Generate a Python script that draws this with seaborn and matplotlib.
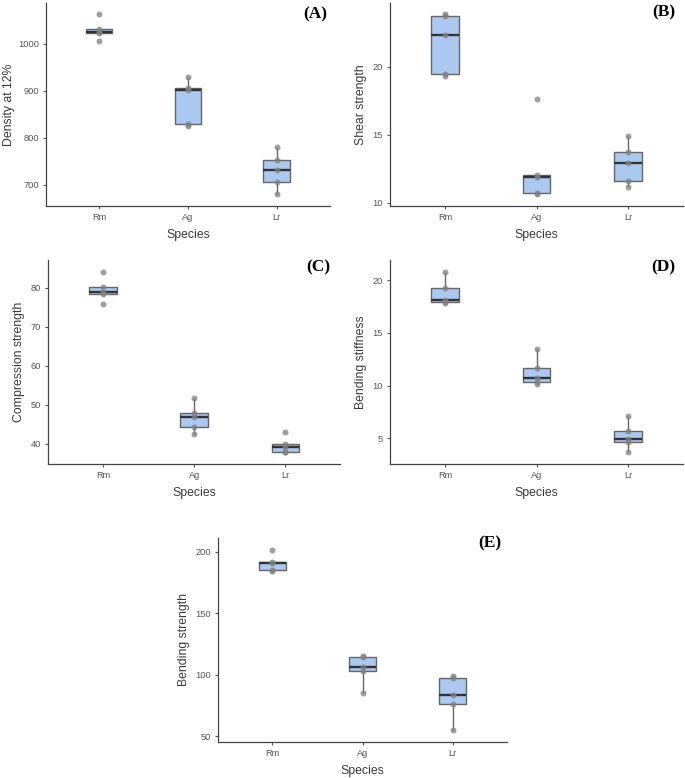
import numpy as np
import pandas as pd
import matplotlib
matplotlib.use("Agg")
import matplotlib.pyplot as plt
import seaborn as sns

species = ["Rm", "Ag", "Lr"]

density = {"Rm": [1006, 1023, 1025.5, 1032, 1064],
           "Ag": [826, 830, 902, 905, 930],
           "Lr": [681.5, 706, 732, 752.5, 781.5]}
shear = {"Rm": [19.32, 19.49, 22.37, 23.77, 23.92],
         "Ag": [10.64, 10.71, 11.91, 12.01, 17.67],
         "Lr": [11.13, 11.62, 12.92, 13.77, 14.93]}
compression = {"Rm": [75.7, 78.5, 79.0, 80.1, 84.1],
               "Ag": [42.6, 44.4, 46.9, 48.0, 51.6],
               "Lr": [37.8, 37.9, 39.2, 39.9, 43.1]}
stiffness = {"Rm": [17.85, 17.97, 18.1, 19.24, 20.82],
             "Ag": [10.2, 10.35, 10.7, 11.71, 13.51],
             "Lr": [3.7, 4.68, 4.94, 5.7, 7.15]}
bending = {"Rm": [184.3, 185.0, 190.8, 191.5, 201.8],
           "Ag": [85.6, 102.8, 106.7, 114.6, 115.5],
           "Lr": [55.4, 76.5, 83.5, 97.6, 99.2]}

ylabels = ["Density at 12%", "Shear strength", "Compression strength",
           "Bending stiffness", "Bending strength"]
tags = ["(A)", "(B)", "(C)", "(D)", "(E)"]
ylims = [(656, 1086), (9.76, 24.73), (34.8, 87.1), (2.56, 21.93), (45.4, 211.4)]
yticks = [[700, 800, 900, 1000], [10, 15, 20], [40, 50, 60, 70, 80],
          [5, 10, 15, 20], [50, 100, 150, 200]]

sns.set_theme(style="ticks")
plt.rcParams['font.family'] = ['Liberation Sans', 'DejaVu Sans']

W, H = 685, 778
fig = plt.figure(figsize=(W / 100, H / 100), dpi=100)

# axes boxes in pixels: left, top, right, bottom
boxes = [(45.7, 3.3, 330, 205.7),
         (390, 2.7, 683, 206),
         (48.3, 260, 340, 464),
         (390, 260, 683, 464),
         (218.3, 537.7, 506.7, 742)]
tagpos = [(0.99, 0.945), (0.973, 0.95), (0.966, 0.962), (0.973, 0.962), (0.983, 0.97)]
ylabelpads = [2.0, 4, 4, 4, 4]

datasets = [density, shear, compression, stiffness, bending]
fill = "#AAC8F0"
edge = "#666666"

for i, d in enumerate(datasets):
    l, t, r, b = boxes[i]
    ax = fig.add_axes([l / W, 1 - b / H, (r - l) / W, (b - t) / H])
    rows = [(sp, v) for sp in species for v in d[sp]]
    df = pd.DataFrame(rows, columns=["Species", "value"])
    sns.boxplot(data=df, x="Species", y="value", order=species, ax=ax,
                width=0.3, color=fill, linecolor=edge, linewidth=1.0,
                showfliers=False, showcaps=False,
                medianprops=dict(color="#333333", linewidth=1.7))
    for p in ax.patches:
        p.set_facecolor(fill)
    sns.stripplot(data=df, x="Species", y="value", order=species, ax=ax,
                  jitter=False, color="#808080", alpha=0.75, size=4.3,
                  linewidth=0)
    ax.set_xlim(-0.6, 2.6)
    ax.set_ylim(*ylims[i])
    ax.set_yticks(yticks[i])
    ax.set_xlabel("Species", fontsize=8.8, color="#3A3A3A", labelpad=5)
    ax.set_ylabel(ylabels[i], fontsize=8.8, color="#3A3A3A", labelpad=ylabelpads[i])
    ax.tick_params(axis="both", labelsize=6.7, colors="#555555",
                   length=2.5, width=0.8, labelcolor="#555555", pad=2.5)
    for s in ["top", "right"]:
        ax.spines[s].set_visible(False)
    for s in ["left", "bottom"]:
        ax.spines[s].set_color("#444444")
        ax.spines[s].set_linewidth(0.9)
    ax.text(tagpos[i][0], tagpos[i][1], tags[i], transform=ax.transAxes,
            ha="right", va="center", fontsize=12.5, fontweight="bold",
            family=["Liberation Serif", "DejaVu Serif"], color="black")

fig.savefig("out.png", dpi=100)
